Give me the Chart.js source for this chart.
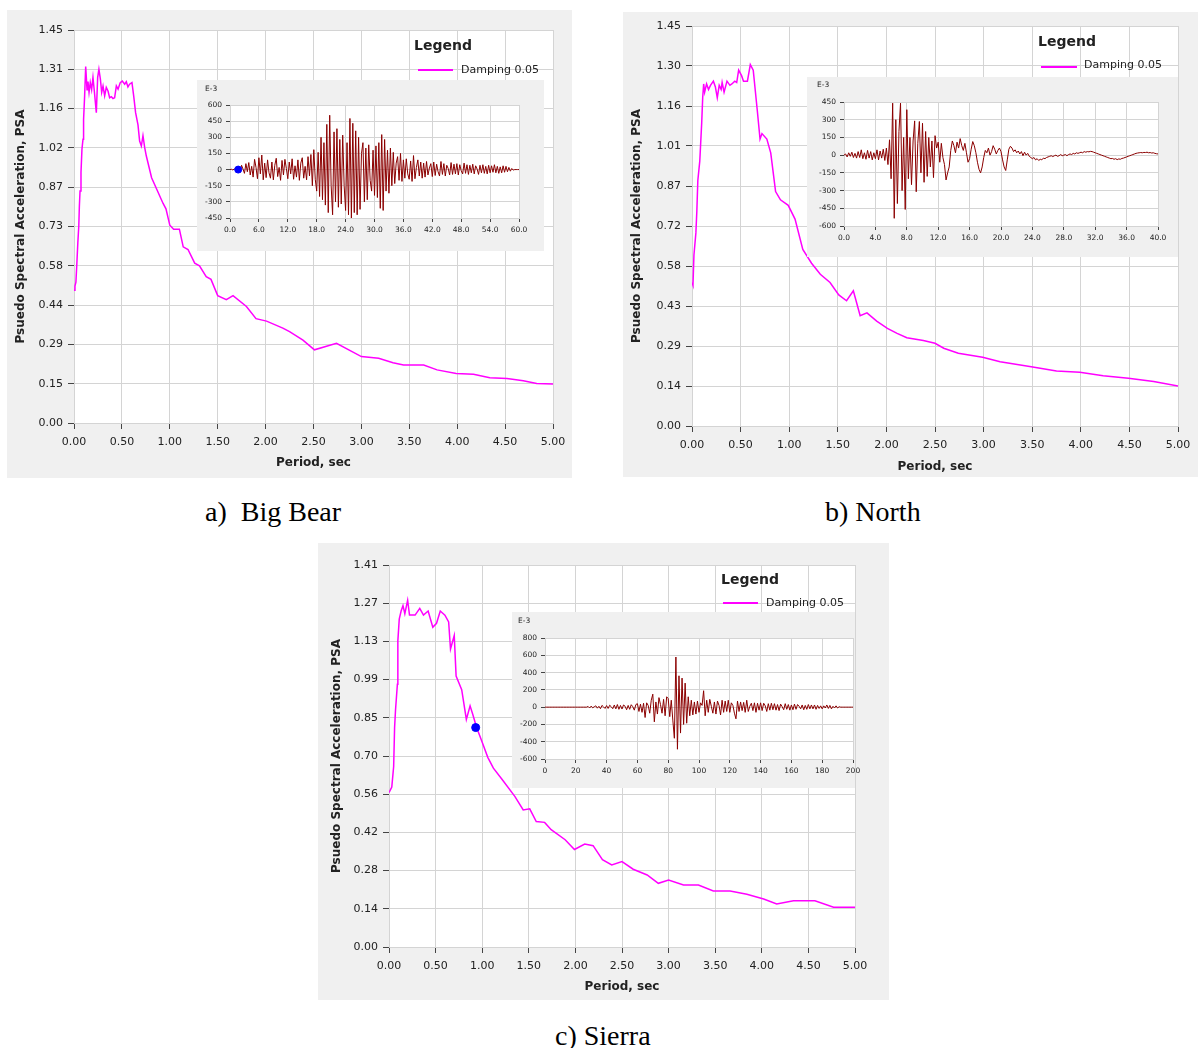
<!DOCTYPE html>
<html>
<head>
<meta charset="utf-8">
<title>Psuedo Spectral Acceleration</title>
<script src="https://cdn.jsdelivr.net/npm/chart.js@4.4.1/dist/chart.umd.min.js"></script>
<style>
  html, body { margin: 0; padding: 0; background: #fff; }
  #lienzo { position: relative; width: 1198px; height: 1048px; overflow: hidden; }
  .caja { position: absolute; background: #f0f0f0; }
  canvas { position: absolute; }
  .titulo-leyenda { position: absolute; font: bold 14px/14px "DejaVu Sans", sans-serif; color: #222; white-space: nowrap; z-index: 5; }
  .texto-leyenda { position: absolute; font: 11px/11px "DejaVu Sans", sans-serif; color: #222; white-space: nowrap; z-index: 5; }
  .linea-leyenda { position: absolute; height: 1.5px; background: #ff00ff; z-index: 5; }
  .exponente { position: absolute; font: 7.5px/8px "DejaVu Sans", sans-serif; color: #222; z-index: 5; }
  .pie { position: absolute; font: 28px/28px "Liberation Serif", serif; color: #000; white-space: pre; }
</style>
</head>
<body>
<div id="lienzo">
  <!-- a) Big Bear -->
  <div class="caja" style="left:7px;top:10px;width:565px;height:468px"></div>
  <canvas id="espectroA" width="565" height="468" style="left:7px;top:10px;z-index:1"></canvas>
  <div class="caja" style="left:197px;top:80px;width:347px;height:171px;z-index:2"></div>
  <canvas id="registroA" width="347" height="171" style="left:197px;top:80px;z-index:3"></canvas>
  <div class="exponente" style="left:205px;top:85px">E-3</div>
  <div class="titulo-leyenda" style="left:414px;top:38px">Legend</div>
  <div class="linea-leyenda" style="left:418px;top:69px;width:35px"></div>
  <div class="texto-leyenda" style="left:461px;top:64px">Damping 0.05</div>
  <div class="pie" style="left:205px;top:498px">a)  Big Bear</div>

  <!-- b) North -->
  <div class="caja" style="left:623px;top:12px;width:575px;height:465px"></div>
  <canvas id="espectroB" width="575" height="465" style="left:623px;top:12px;z-index:1"></canvas>
  <div class="caja" style="left:807px;top:77px;width:371px;height:180px;z-index:2"></div>
  <canvas id="registroB" width="371" height="180" style="left:807px;top:77px;z-index:3"></canvas>
  <div class="exponente" style="left:817px;top:81px">E-3</div>
  <div class="titulo-leyenda" style="left:1038px;top:34px">Legend</div>
  <div class="linea-leyenda" style="left:1041px;top:66px;width:36px"></div>
  <div class="texto-leyenda" style="left:1084px;top:59px">Damping 0.05</div>
  <div class="pie" style="left:825px;top:498px">b) North</div>

  <!-- c) Sierra -->
  <div class="caja" style="left:318px;top:543px;width:571px;height:457px"></div>
  <canvas id="espectroC" width="571" height="457" style="left:318px;top:543px;z-index:1"></canvas>
  <div class="caja" style="left:512px;top:612px;width:343px;height:176px;z-index:2"></div>
  <canvas id="registroC" width="352" height="176" style="left:512px;top:612px;z-index:3"></canvas>
  <div class="exponente" style="left:518px;top:617px">E-3</div>
  <div class="titulo-leyenda" style="left:721px;top:572px">Legend</div>
  <div class="linea-leyenda" style="left:723px;top:602px;width:35px"></div>
  <div class="texto-leyenda" style="left:766px;top:597px">Damping 0.05</div>
  <div class="pie" style="left:555px;top:1022px">c) Sierra</div>
</div>

<script>
// espectros de respuesta (periodo en s, PSA en g)

const periodoBigBear = [0.00, 0.01, 0.02, 0.03, 0.04, 0.05, 0.056, 0.063, 0.073, 0.083, 0.094, 0.10, 0.111, 0.122,
  0.136, 0.146, 0.157, 0.17, 0.184, 0.198, 0.212, 0.233, 0.247, 0.26, 0.275, 0.289, 0.303, 0.32, 0.337, 0.355,
  0.372, 0.39, 0.407, 0.424, 0.442, 0.46, 0.483, 0.504, 0.529, 0.546, 0.563, 0.58, 0.605, 0.623, 0.643, 0.668,
  0.685, 0.703, 0.72, 0.738, 0.755, 0.81, 0.93, 0.96, 1.00, 1.04, 1.10, 1.14, 1.19, 1.26, 1.31, 1.38, 1.43,
  1.50, 1.59, 1.66, 1.80, 1.90, 2.01, 2.18, 2.25, 2.39, 2.51, 2.74, 3.00, 3.18, 3.33, 3.44, 3.65, 3.79, 3.99,
  4.17, 4.34, 4.52, 4.69, 4.83, 5.00];
const psaBigBear = [0.49, 0.505, 0.52, 0.59, 0.665, 0.727, 0.80, 0.856, 0.924, 1.01, 1.047, 1.12, 1.207, 1.315,
  1.23, 1.26, 1.22, 1.256, 1.23, 1.275, 1.225, 1.145, 1.275, 1.305, 1.27, 1.22, 1.243, 1.207, 1.238, 1.225,
  1.20, 1.204, 1.197, 1.20, 1.244, 1.232, 1.256, 1.262, 1.25, 1.259, 1.24, 1.25, 1.256, 1.207, 1.145, 1.10,
  1.04, 1.022, 1.06, 1.016, 0.985, 0.905, 0.81, 0.79, 0.73, 0.715, 0.715, 0.65, 0.64, 0.59, 0.58, 0.54, 0.53,
  0.47, 0.455, 0.47, 0.43, 0.385, 0.376, 0.35, 0.337, 0.306, 0.27, 0.294, 0.245, 0.239, 0.222, 0.214, 0.214, 0.196, 0.183,
  0.18, 0.167, 0.164, 0.156, 0.146, 0.144];
const ticksBigBear = ['0.00', '0.15', '0.29', '0.44', '0.58', '0.73', '0.87', '1.02', '1.16', '1.31', '1.45'];

const periodoNorth = [0.00, 0.01, 0.02, 0.04, 0.05, 0.06, 0.08, 0.10, 0.11, 0.12, 0.13, 0.15, 0.17, 0.19, 0.22,
  0.24, 0.26, 0.28, 0.30, 0.31, 0.33, 0.36, 0.39, 0.41, 0.44, 0.46, 0.48, 0.51, 0.53, 0.57, 0.60, 0.63, 0.67,
  0.70, 0.72, 0.77, 0.81, 0.86, 0.91, 0.99, 1.06, 1.14, 1.23, 1.32, 1.42, 1.51, 1.59, 1.66, 1.73, 1.80, 1.90,
  2.01, 2.11, 2.21, 2.38, 2.50, 2.59, 2.74, 2.99, 3.17, 3.49, 3.75, 3.99, 4.23, 4.49, 4.75, 5.00];
const psaNorth = [0.52, 0.51, 0.62, 0.70, 0.78, 0.89, 0.96, 1.10, 1.19, 1.24, 1.21, 1.24, 1.22, 1.235, 1.25,
  1.23, 1.19, 1.235, 1.22, 1.245, 1.21, 1.25, 1.235, 1.24, 1.25, 1.245, 1.29, 1.27, 1.25, 1.25, 1.31, 1.29, 1.15,
  1.04, 1.06, 1.04, 0.99, 0.85, 0.82, 0.80, 0.75, 0.64, 0.59, 0.55, 0.52, 0.475, 0.454, 0.49, 0.40, 0.41, 0.38,
  0.354, 0.336, 0.32, 0.31, 0.30, 0.282, 0.264, 0.249, 0.233, 0.215, 0.199, 0.195, 0.182, 0.173, 0.161, 0.145];
const ticksNorth = ['0.00', '0.14', '0.29', '0.43', '0.58', '0.72', '0.87', '1.01', '1.16', '1.30', '1.45'];

const periodoSierra = [0.00, 0.03, 0.05, 0.06, 0.07, 0.09, 0.095, 0.11, 0.13, 0.15, 0.17, 0.20, 0.22, 0.28,
  0.33, 0.37, 0.42, 0.47, 0.51, 0.55, 0.60, 0.64, 0.66, 0.70, 0.72, 0.78, 0.83, 0.87, 0.90, 0.94, 0.99, 1.06,
  1.12, 1.21, 1.35, 1.44, 1.51, 1.58, 1.67, 1.74, 1.89, 1.99, 2.10, 2.19, 2.29, 2.39, 2.50, 2.62, 2.77, 2.89,
  3.00, 3.16, 3.32, 3.48, 3.66, 3.84, 4.02, 4.16, 4.34, 4.57, 4.77, 5.00];
const psaSierra = [0.57, 0.59, 0.666, 0.81, 0.875, 0.97, 1.13, 1.21, 1.24, 1.26, 1.23, 1.28, 1.225, 1.225,
  1.25, 1.225, 1.24, 1.18, 1.195, 1.24, 1.225, 1.20, 1.10, 1.15, 1.00, 0.95, 0.84, 0.89, 0.857, 0.81, 0.765, 0.70,
  0.66, 0.62, 0.556, 0.506, 0.51, 0.463, 0.46, 0.433, 0.396, 0.36, 0.38, 0.374, 0.322, 0.303, 0.315, 0.287, 0.266, 0.235,
  0.247, 0.229, 0.229, 0.207, 0.207, 0.195, 0.177, 0.159, 0.171, 0.171, 0.147, 0.147];
const ticksSierra = ['0.00', '0.14', '0.28', '0.42', '0.56', '0.70', '0.85', '0.99', '1.13', '1.27', '1.41'];
const marcadorSierra = [0.93, 0.81];

// acelerogramas (E-3 g), muestreados cada "paso" segundos

const pasoBigBear = 0.3;
const registroBigBear = [0, 3, -4, 6, -2, 8,
  15, -25, 40, 5, -35, 55, -20, 65, -50, 30,
  -70, 95, 20, -85, 110, -40, 135, -95, 60, -75,
  90, -30, -80, 70, -95, 40, 105, -65, 20, -100,
  85, -50, 95, 10, -85, 70, -40, 100, -90, 35,
  -70, 90, -100, 60, 110, -80, 30, -95, 120, -60,
  140, -150, 185, -90, -200, 160, -250, 300, -280, 250,
  -330, 420, -400, 505, -150, -420, 350, -300, 380, -350,
  280, -320, 320, -150, -380, 250, -420, 475, -450, 430,
  -400, 360, -420, 300, -370, 150, 250, -300, 200, -280,
  230, -100, -200, 180, -240, 220, -260, 250, -360, 325,
  -380, 280, -200, 180, -220, 200, -150, 160, -130, 60,
  120, -100, 150, -110, 90, -80, 100, -40, -90, 80,
  -110, 130, -85, 20, 90, -60, 70, -80, 60, -70,
  75, -50, 15, 55, -65, 70, -55, 50, -20, -60,
  75, -45, 55, -60, 40, 10, -50, 65, -45, 50,
  -40, 55, -50, 45, -10, -40, 60, -35, 45, -45,
  40, -30, 50, -40, 35, 5, -45, 40, -30, 45,
  -35, 30, -40, 40, -30, 35, -25, 45, -30, 30,
  -35, 25, -30, 35, -25, 30, -20, 20, -15, 10,
  -5, 0, 0, 0, 0];
const marcadorBigBear = [1.7, 0];

const pasoNorth = 0.2;
const registroNorth = [0, 10, -15, 20, -10, 25, -20, 15, -25, 30,
  -20, 45, -30, 20, -35, 40, -25, 30, -40, 20,
  -30, 45, -40, 35, -25, 50, -45, 60, -80, 130,
  -200, 440, -535, 300, -410, 200, 440, -300, 150, -460,
  385, -200, 150, -250, 120, 290, -310, 100, 285, -150,
  270, -230, 200, -180, 150, -100, 120, -190, 165, 60,
  110, -60, 100, -20, -80, -210, -150, -100, 40, 120,
  80, 20, 110, 60, 140, 80, 40, 100, 20, -60,
  -30, 50, 115, 80, 20, -60, -120, -150, -100, -20,
  40, 20, 60, 0, 30, 80, 50, 10, 40, 60,
  30, -40, -100, -130, -40, 50, 75, 60, 30, 45,
  20, 35, 10, 30, -5, 25, 0, 15, -10, -20,
  -30, -20, -40, -30, -45, -35, -40, -25, -30, -20,
  -15, -10, -5, -12, -5, 0, -10, -5, 5, -5,
  0, 5, -5, 5, 10, 5, 15, 10, 20, 15,
  20, 25, 20, 30, 25, 30, 28, 32, 30, 25,
  20, 15, 10, 5, 0, -5, -10, -15, -20, -25,
  -30, -28, -35, -30, -38, -32, -35, -28, -25, -20,
  -15, -10, -5, 0, 5, 10, 15, 18, 20, 22,
  20, 23, 22, 25, 20, 22, 18, 20, 15, 12,
  10];

const pasoSierra = 1;
const registroSierra = [0, 0, 0, 0, 0, 0, 0, 0, 0, 0,
  0, 0, 0, 0, 0, 0, 0, 0, 0, 0,
  0, 0, 0, 0, 0, 0, 0, 0, 8, -10,
  12, -8, 5, 15, -12, 10, -18, 20, 3, -15,
  18, -15, 22, 5, -18, 25, -20, 30, -25, 20,
  -22, 25, 10, -30, 20, -25, 28, 5, -35, 30,
  40, -50, 35, -60, 45, -120, 50, 20, -70, 80,
  150, -170, 60, -80, 110, 30, -70, 90, -100, 120,
  100, -110, 80, -150, -360, 580, -487, 363, -300, 336,
  -200, 278, -186, 120, -100, 80, -90, 60, -80, 70,
  -60, 50, 20, 190, -100, 80, -60, 90, 10, -70,
  60, -80, 70, 20, -90, 80, -60, 70, -50, 80,
  -60, 50, 20, -70, -135, 70, -50, 60, -40, 55,
  -60, 80, -50, 10, 45, -40, 50, -60, 45, -35,
  50, -40, 45, 15, -50, 40, -35, 45, -30, 40,
  -35, 30, -40, 35, 5, -30, 40, -25, 30, -35,
  25, -30, 35, -25, 30, 10, -20, 25, -30, 20,
  -25, 30, -20, 25, -20, 25, -25, 20, -15, 15,
  -20, 15, -10, 25, -15, 20, -20, 10, -10, 15,
  -10, 5, 0, 0, 0, 0, 0, 0, 0, 0,
  0];

const colorRejilla = '#d4d4d4';
const colorTexto = '#222';

// pinta de blanco el area de trazado
const fondoBlanco = {
  id: 'fondoBlanco',
  beforeDraw(chart) {
    const { ctx, chartArea: a } = chart;
    ctx.save();
    ctx.fillStyle = '#fff';
    ctx.fillRect(a.left, a.top, a.right - a.left, a.bottom - a.top);
    ctx.restore();
  }
};

function crearEspectro(id, periodos, valores, yMax, etiquetasY, m, marcador) {
  const datasets = [{
    data: periodos.map((t, i) => ({ x: t, y: valores[i] })),
    borderColor: '#ff00ff',
    borderWidth: 1.5,
    pointRadius: 0,
    tension: 0,
    order: 1
  }];
  if (marcador) {
    datasets.push({
      data: [{ x: marcador[0], y: marcador[1] }],
      showLine: false,
      pointRadius: 4,
      pointBackgroundColor: '#0000ff',
      pointBorderColor: '#0000ff',
      order: 0
    });
  }
  new Chart(document.getElementById(id), {
    type: 'line',
    data: { datasets },
    plugins: [fondoBlanco],
    options: {
      responsive: false,
      animation: false,
      events: [],
      layout: { padding: { left: 0, top: m.top, right: m.right, bottom: 0 } },
      plugins: { legend: { display: false }, tooltip: { enabled: false } },
      scales: {
        x: {
          type: 'linear', min: 0, max: 5,
          grid: { color: colorRejilla, tickColor: '#444', tickLength: 6 },
          border: { color: colorRejilla },
          ticks: {
            stepSize: 0.5, maxRotation: 0, autoSkip: false, padding: 7,
            color: colorTexto, font: { family: 'DejaVu Sans', size: 11 },
            callback: (v) => v.toFixed(2)
          },
          title: {
            display: true, text: 'Period, sec', color: colorTexto,
            font: { family: 'DejaVu Sans', size: 12, weight: 'bold' },
            padding: { top: 0, bottom: m.tituloX }
          },
          afterFit: (s) => { s.height = m.altoX; s.paddingLeft = 0; s.paddingRight = 0; }
        },
        y: {
          type: 'linear', min: 0, max: yMax,
          grid: { color: colorRejilla, tickColor: '#444', tickLength: 6 },
          border: { color: colorRejilla },
          afterBuildTicks: (s) => {
            s.ticks = etiquetasY.map((e, i) => ({ value: yMax * i / (etiquetasY.length - 1) }));
          },
          ticks: {
            padding: 5, color: colorTexto, font: { family: 'DejaVu Sans', size: 11 },
            callback: (v, i) => etiquetasY[i]
          },
          title: {
            display: true, text: 'Psuedo Spectral Acceleration, PSA', color: colorTexto,
            font: { family: 'DejaVu Sans', size: 12, weight: 'bold' },
            padding: { top: m.tituloY, bottom: 0 }
          },
          afterFit: (s) => { s.width = m.anchoY; s.paddingTop = 0; s.paddingBottom = 0; }
        }
      }
    }
  });
}

function crearRegistro(id, paso, valores, ejeX, ejeY, m, marcador) {
  const datasets = [{
    data: valores.map((v, i) => ({ x: i * paso, y: v })),
    borderColor: '#8b0000',
    borderWidth: 1,
    pointRadius: 0,
    tension: 0,
    order: 1
  }];
  if (marcador) {
    datasets.push({
      data: [{ x: marcador[0], y: marcador[1] }],
      showLine: false,
      pointRadius: 3.5,
      pointBackgroundColor: '#0000ff',
      pointBorderColor: '#0000ff',
      order: 0
    });
  }
  new Chart(document.getElementById(id), {
    type: 'line',
    data: { datasets },
    plugins: [fondoBlanco],
    options: {
      responsive: false,
      animation: false,
      events: [],
      layout: { padding: { left: 0, top: m.top, right: m.right, bottom: 0 } },
      plugins: { legend: { display: false }, tooltip: { enabled: false } },
      scales: {
        x: {
          type: 'linear', min: 0, max: ejeX.max,
          grid: { color: colorRejilla, tickColor: '#444', tickLength: 4 },
          border: { color: colorRejilla },
          ticks: {
            stepSize: ejeX.paso, maxRotation: 0, autoSkip: false, padding: 4,
            color: colorTexto, font: { family: 'DejaVu Sans', size: 7.5 },
            callback: (v) => v.toFixed(ejeX.decimales)
          },
          afterFit: (s) => { s.height = m.altoX; s.paddingLeft = 0; s.paddingRight = 0; }
        },
        y: {
          type: 'linear', min: ejeY.min, max: ejeY.max,
          grid: { color: colorRejilla, tickColor: '#444', tickLength: 4 },
          border: { color: colorRejilla },
          ticks: {
            stepSize: ejeY.paso, padding: 4,
            color: colorTexto, font: { family: 'DejaVu Sans', size: 7.5 }
          },
          afterFit: (s) => { s.width = m.anchoY; s.paddingTop = 0; s.paddingBottom = 0; }
        }
      }
    }
  });
}

crearEspectro('espectroA', periodoBigBear, psaBigBear, 1.45, ticksBigBear,
  { top: 20, right: 19, anchoY: 67, altoX: 55, tituloY: 7, tituloX: 8 });
crearEspectro('espectroB', periodoNorth, psaNorth, 1.45, ticksNorth,
  { top: 14, right: 20, anchoY: 69, altoX: 51, tituloY: 7, tituloX: 3 });
crearEspectro('espectroC', periodoSierra, psaSierra, 1.41, ticksSierra,
  { top: 22, right: 34, anchoY: 71, altoX: 53, tituloY: 12, tituloX: 6 }, marcadorSierra);

crearRegistro('registroA', pasoBigBear, registroBigBear,
  { max: 60, paso: 6, decimales: 1 }, { min: -450, max: 600, paso: 150 },
  { top: 25, right: 25, anchoY: 33, altoX: 33 }, marcadorBigBear);
crearRegistro('registroB', pasoNorth, registroNorth,
  { max: 40, paso: 4, decimales: 1 }, { min: -600, max: 450, paso: 150 },
  { top: 25, right: 20, anchoY: 37, altoX: 31 });
crearRegistro('registroC', pasoSierra, registroSierra,
  { max: 200, paso: 20, decimales: 0 }, { min: -600, max: 800, paso: 200 },
  { top: 26, right: 11, anchoY: 33, altoX: 29 });
</script>
</body>
</html>
